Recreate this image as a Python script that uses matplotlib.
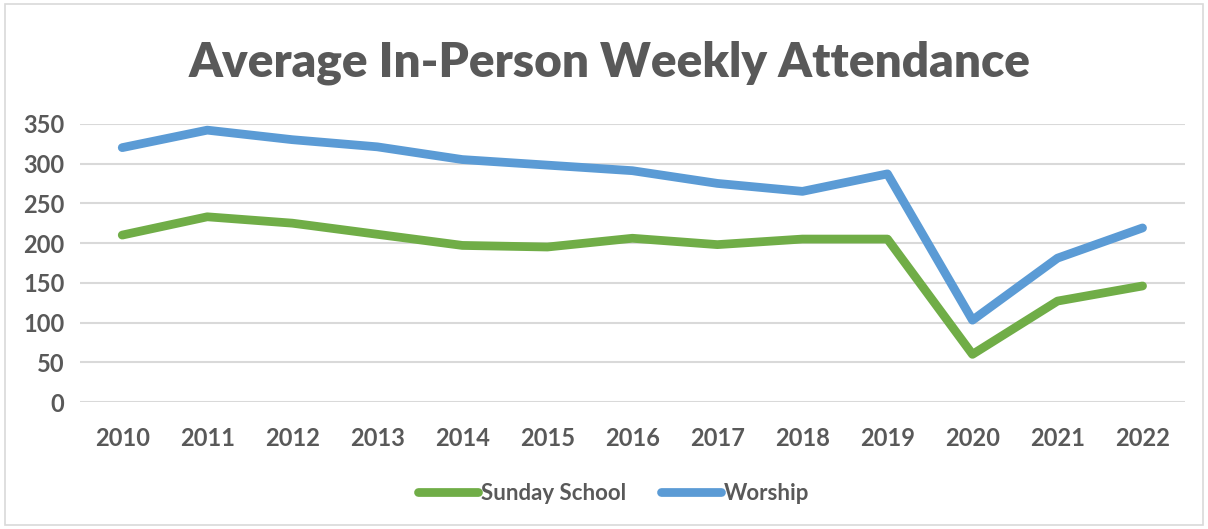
import matplotlib
matplotlib.use('Agg')
import matplotlib.pyplot as plt
from matplotlib.patches import Rectangle

# Data
years = ['2010', '2011', '2012', '2013', '2014', '2015', '2016',
         '2017', '2018', '2019', '2020', '2021', '2022']
sunday_school = [210, 233, 225, 211, 197, 195, 206, 198, 205, 205, 60, 127, 146]
worship = [320, 342, 330, 321, 305, 298, 291, 275, 265, 287, 103, 181, 219]

GRAY_TEXT = '#595959'
GREEN = '#70AD47'
BLUE = '#5B9BD5'

plt.rcParams['font.family'] = ['Lato', 'DejaVu Sans']

fig = plt.figure(figsize=(12.08, 5.29), dpi=100)
ax = fig.add_axes([0.066, 0.240, 0.915, 0.526])

x = range(len(years))
ax.plot(x, sunday_school, color=GREEN, lw=6.3, solid_capstyle='round',
        solid_joinstyle='round', label='Sunday School', zorder=3)
ax.plot(x, worship, color=BLUE, lw=6.3, solid_capstyle='round',
        solid_joinstyle='round', label='Worship', zorder=3)

ax.set_xlim(-0.5, len(years) - 0.5)
ax.set_ylim(0, 350)
ax.set_yticks(range(0, 351, 50))
ax.set_xticks(list(x))
ax.set_xticklabels(years)
ax.grid(axis='y', color='#D9D9D9', lw=1.5)
ax.set_axisbelow(True)
for s in ax.spines.values():
    s.set_visible(False)
ax.tick_params(length=0, labelsize=17, labelcolor=GRAY_TEXT, pad=11)
ax.tick_params(axis='x', pad=18)
for lab in ax.get_xticklabels() + ax.get_yticklabels():
    lab.set_fontweight('bold')

fig.text(0.505, 0.882, 'Average In-Person Weekly Attendance', ha='center',
         va='center', fontsize=34.4, fontweight='heavy', color=GRAY_TEXT)

leg = fig.legend(loc='center', bbox_to_anchor=(0.508, 0.068), ncol=2,
                 frameon=False, handlelength=2.7, handletextpad=0.1,
                 columnspacing=1.6, prop={'size': 16, 'weight': 'bold'})
for t in leg.get_texts():
    t.set_color(GRAY_TEXT)

# light frame around the chart area
fig.patches.append(Rectangle((0.004, 0.008), 0.992, 0.984, transform=fig.transFigure,
                             fill=False, edgecolor='#D9D9D9', lw=1.2))

fig.savefig('out.png', dpi=100, facecolor='white')
